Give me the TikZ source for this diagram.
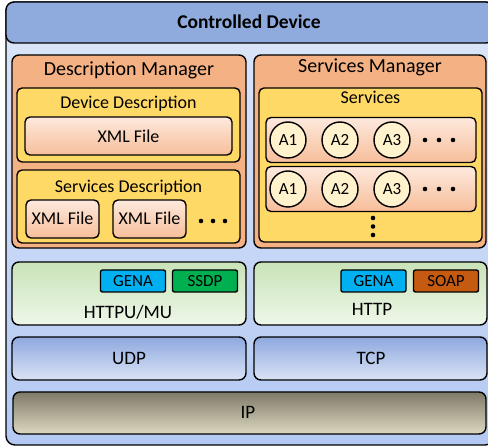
\documentclass[tikz,border=0pt]{standalone}
\usepackage{fontspec}
\setmainfont{Carlito}
\usepackage{xcolor}
\usepackage{tikz}
\definecolor{C0}{HTML}{8FAADC}
\definecolor{Cbt}{HTML}{DDE7F9}
\definecolor{Cbb}{HTML}{B3C9F3}
\definecolor{C1}{HTML}{F4B183}
\definecolor{C2}{HTML}{FFD966}
\definecolor{Cft}{HTML}{FDE9DD}
\definecolor{Cfb}{HTML}{F7BE9A}
\definecolor{C3}{HTML}{FFF2CC}
\definecolor{Cgt}{HTML}{C9E3B8}
\definecolor{Cgb}{HTML}{EEF7E9}
\definecolor{Cut}{HTML}{8EA9DF}
\definecolor{Cub}{HTML}{DAE3F5}
\definecolor{Cit}{HTML}{7E7A68}
\definecolor{Cib}{HTML}{DDD8C0}
\definecolor{Cgena}{HTML}{00B0F0}
\definecolor{Cssdp}{HTML}{00B050}
\definecolor{Csoap}{HTML}{C55A11}

\begin{document}
\begin{tikzpicture}[x=1pt,y=-1pt]
\tikzstyle{box}=[draw,line width=1.4pt,shape=rectangle,rounded corners=7pt,inner sep=0pt]
\tikzstyle{mgr}=[box,fill=C1]
\tikzstyle{grp}=[box,fill=C2,rounded corners=5pt]
\tikzstyle{file}=[box,rounded corners=5pt,top color=Cft,bottom color=Cfb]
\tikzstyle{proto}=[box,top color=Cgt,bottom color=Cgb]
\tikzstyle{trans}=[box,top color=Cut,bottom color=Cub]
\tikzstyle{tag}=[draw,line width=1.4pt,rounded corners=2pt,inner sep=0pt,minimum width=65pt,minimum height=22pt,font=\fontsize{17}{17}\selectfont]
\tikzstyle{act}=[draw,line width=1.4pt,shape=circle,fill=C3,minimum size=36pt,inner sep=0pt,font=\fontsize{17}{17}\selectfont]
\tikzstyle{ttl}=[anchor=base,inner sep=0pt,font=\fontsize{20}{20}\selectfont]
\tikzstyle{sub}=[anchor=base,inner sep=0pt,font=\fontsize{18}{18}\selectfont]
\tikzstyle{lay}=[anchor=base,inner sep=0pt,font=\fontsize{19}{19}\selectfont]
\tikzstyle{dot}=[shape=circle,fill=black,minimum size=4.6pt,inner sep=0pt]

\useasboundingbox (0,0) rectangle (488,446);

% frame
\node[box,top color=Cbt,bottom color=Cbb,minimum width=488pt,minimum height=443pt,rounded corners=9pt](dev) at (250,223.5){};
\node[box,fill=C0,minimum width=488pt,minimum height=41pt,rounded corners=8pt](head) at (250,22.5){};
\node[anchor=base,inner sep=0pt,font=\fontsize{19.5}{19.5}\selectfont\bfseries](headt) at (249,29){Controlled Device};
%
% description manager
\node[mgr,minimum width=234pt,minimum height=193pt](dm) at (129,151.5){};
\node[ttl](dmt) at (129,76){Description Manager};
\node[grp,minimum width=223pt,minimum height=74pt](dd) at (128.5,125){};
\node[sub](ddt) at (128.5,109){Device Description};
\node[file,minimum width=207pt,minimum height=38pt](xml0) at (128.5,136){};
\node[sub](xml0t) at (128.5,143){XML File};
\node[grp,minimum width=223pt,minimum height=73pt](sd) at (128.5,206.5){};
\node[sub](sdt) at (128.5,193){Services Description};
\node[file,minimum width=73pt,minimum height=38pt](xml1) at (62.5,219){};
\node[sub](xml1t) at (62.5,225){XML File};
\node[file,minimum width=73pt,minimum height=38pt](xml2) at (149.5,219){};
\node[sub](xml2t) at (149.5,225){XML File};
\foreach \x in {201,213,225} \node[dot](sdd\x) at (\x,221){};
%
% services manager
\node[mgr,minimum width=232pt,minimum height=193pt](sm) at (370,151.5){};
\node[ttl](smt) at (370,73){Services Manager};
\node[grp,minimum width=223pt,minimum height=154pt](sv) at (370.5,165){};
\node[sub](svt) at (370.5,104){Services};
\foreach \r/\y in {1/140,2/189}{
  \node[file,minimum width=210pt,minimum height=45pt](row\r) at (371,\y){};
  \node[act](a\r1) at (288,\y){A1};
  \node[act](a\r2) at (340,\y){A2};
  \node[act](a\r3) at (392,\y){A3};
  \foreach \x in {425,439,453} \node[dot](rd\r\x) at (\x,\y){};
}
\foreach \y in {218,226.5,235} \node[dot](vd\y) at (373,\y){};
%
% protocols
\node[proto,minimum width=234pt,minimum height=63pt](httpu) at (129,293.5){};
\node[lay](httput) at (128,319){HTTPU/MU};
\node[tag,fill=Cgena](gena1) at (133,281){GENA};
\node[tag,fill=Cssdp](ssdp) at (205,281){SSDP};
\node[proto,minimum width=233pt,minimum height=63pt](http) at (370.5,293.5){};
\node[lay](httpt) at (372,316){HTTP};
\node[tag,fill=Cgena](gena2) at (373.5,281){GENA};
\node[tag,fill=Csoap](soap) at (446,281){SOAP};
%
\node[trans,minimum width=234pt,minimum height=43pt](udp) at (129,358.5){};
\node[lay](udpt) at (129,365){UDP};
\node[trans,minimum width=233pt,minimum height=43pt](tcp) at (370.5,358.5){};
\node[lay](tcpt) at (371,365){TCP};
\node[box,top color=Cit,bottom color=Cib,minimum width=473pt,minimum height=42pt](ip) at (249.5,413){};
\node[lay](ipt) at (248,419){IP};
\end{tikzpicture}
\end{document}
